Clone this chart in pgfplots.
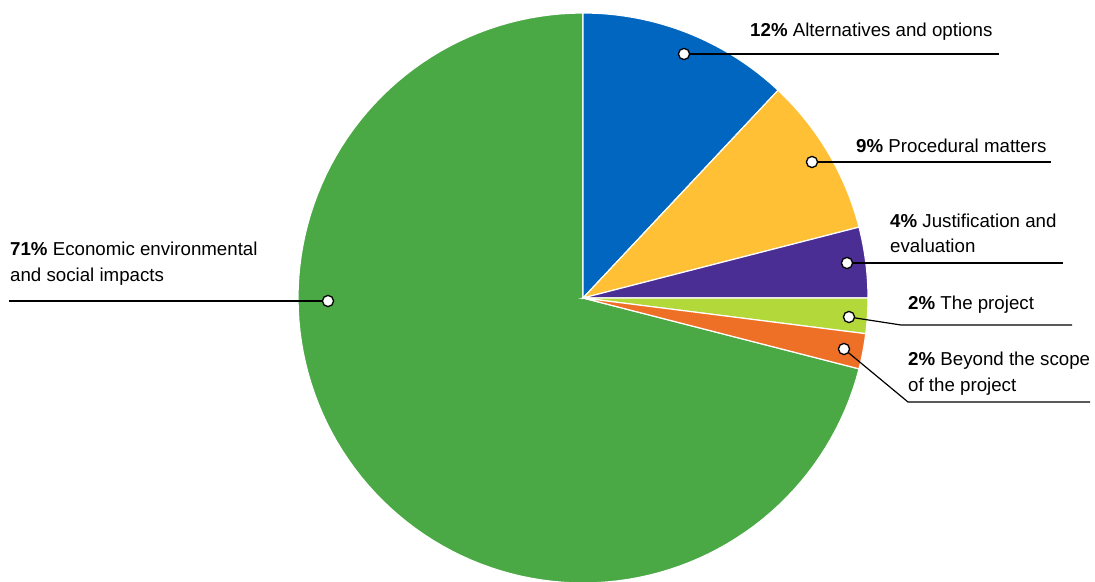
\documentclass[border=0pt]{standalone}
\usepackage{pgfplots}
\pgfplotsset{compat=1.18}
\usepackage{fontspec}
\setmainfont{Liberation Sans}
\definecolor{cblue}{HTML}{0066BF}
\definecolor{cyellow}{HTML}{FFC036}
\definecolor{cpurple}{HTML}{4B2E93}
\definecolor{clgreen}{HTML}{B2D83A}
\definecolor{corange}{HTML}{EE7026}
\definecolor{cgreen}{HTML}{4AA845}
% slice values (percent), clockwise from 12 o'clock
\def\vA{12}\def\vB{9}\def\vC{4}\def\vD{2}\def\vE{2}\def\vF{71}
\pgfmathsetmacro{\aA}{90}
\pgfmathsetmacro{\aB}{\aA-3.6*\vA}
\pgfmathsetmacro{\aC}{\aB-3.6*\vB}
\pgfmathsetmacro{\aD}{\aC-3.6*\vC}
\pgfmathsetmacro{\aE}{\aD-3.6*\vD}
\pgfmathsetmacro{\aF}{\aE-3.6*\vE}
\pgfmathsetmacro{\aG}{\aF-3.6*\vF}
\def\cx{583}\def\cy{283}\def\rr{285}
\newcommand{\slice}[3]{%
  \addplot[fill=#3, draw=white, line width=1.2pt, domain=#2:#1, samples=120, variable=\t]
    ({\cx+\rr*cos(\t)},{\cy+\rr*sin(\t)}) -- (axis cs:\cx,\cy) -- cycle;}
\tikzset{lab/.style={anchor=base west, inner sep=0pt, font=\fontsize{18.7bp}{25bp}\selectfont}}
\begin{document}
\begin{tikzpicture}
\begin{axis}[
  name=ax,
  width=1095bp, height=581bp, scale only axis,
  xmin=0, xmax=1095, ymin=0, ymax=581,
  hide axis,
]
\slice{\aF}{\aG}{cgreen}
\slice{\aA}{\aB}{cblue}
\slice{\aB}{\aC}{cyellow}
\slice{\aC}{\aD}{cpurple}
\slice{\aD}{\aE}{clgreen}
\slice{\aE}{\aF}{corange}
% leader lines
\addplot[black, line width=1.2pt] coordinates {(684,527) (999,527)};
\addplot[black, line width=1.2pt] coordinates {(812,419) (1051,419)};
\addplot[black, line width=1.2pt] coordinates {(847,318) (1063,318)};
\addplot[black, line width=1.2pt] coordinates {(849,264) (901,256) (1072,256)};
\addplot[black, line width=1.2pt] coordinates {(844,232) (908,179) (1090,179)};
\addplot[black, line width=1.2pt] coordinates {(9,280) (328,280)};
% dots
\addplot[only marks, mark=*, mark size=5.6pt, mark options={fill=white, draw=black, line width=1.3pt}]
  coordinates {(684,527) (812,419) (847,318) (849,264) (844,232) (328,280)};
% labels
\node[lab] at (axis cs:750,544) {\textbf{12\%} Alternatives and options};
\node[lab] at (axis cs:856,428) {\textbf{9\%} Procedural matters};
\node[lab] at (axis cs:890,353) {\textbf{4\%} Justification and};
\node[lab] at (axis cs:890,328) {evaluation};
\node[lab] at (axis cs:908,271) {\textbf{2\%} The project};
\node[lab] at (axis cs:908,215) {\textbf{2\%} Beyond the scope};
\node[lab] at (axis cs:908,190) {of the project};
\node[lab] at (axis cs:10,325) {\textbf{71\%} Economic environmental};
\node[lab] at (axis cs:10,299) {and social impacts};
\end{axis}
\pgfresetboundingbox
\useasboundingbox (ax.south west) rectangle (ax.north east);
\end{tikzpicture}
\end{document}
